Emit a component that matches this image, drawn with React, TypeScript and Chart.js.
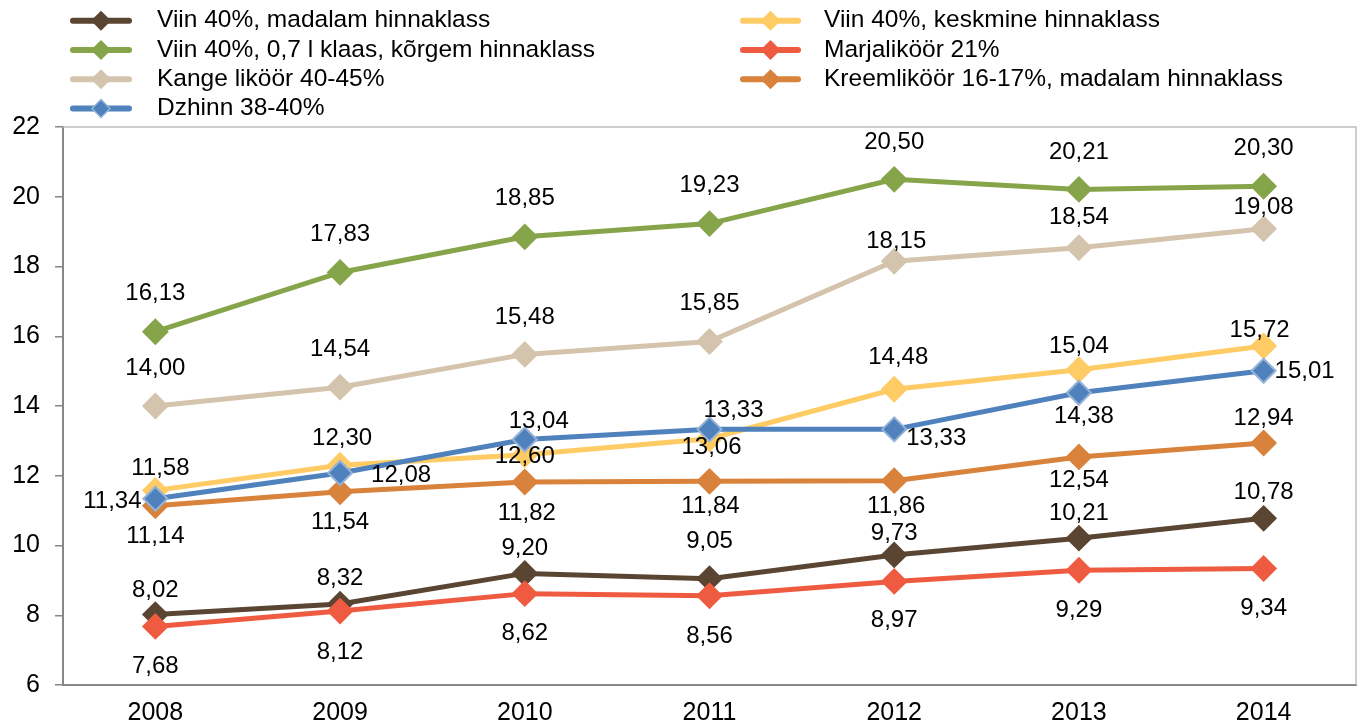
import React, { useEffect, useRef } from 'react';
import { Chart, registerables } from 'chart.js';

Chart.register(...registerables);

const years = ['2008', '2009', '2010', '2011', '2012', '2013', '2014'];
const yTickMin = 6;
const yTickMax = 22;
const yTickStep = 2;

const viinMadalam = [8.02, 8.32, 9.2, 9.05, 9.73, 10.21, 10.78];
const viinKeskmine = [11.58, 12.3, 12.6, 13.06, 14.48, 15.04, 15.72];
const viinKorgem = [16.13, 17.83, 18.85, 19.23, 20.5, 20.21, 20.3];
const marjalikoor = [7.68, 8.12, 8.62, 8.56, 8.97, 9.29, 9.34];
const kangeLikoor = [14.0, 14.54, 15.48, 15.85, 18.15, 18.54, 19.08];
const kreemlikoor = [11.14, 11.54, 11.82, 11.84, 11.86, 12.54, 12.94];
const dzhinn = [11.34, 12.08, 13.04, 13.33, 13.33, 14.38, 15.01];

const FONT = '"Liberation Sans", Arial, Helvetica, sans-serif';

// label placement (offsets from the point, in px) — layout config, not data
const offMadalam = [[0, -24], [0, -26], [0, -25], [0, -37], [0, -22], [0, -25], [0, -26]];
const offKeskmine = [[5, -22], [2, -27], [0, 2], [2, 9], [4, -32], [0, -23], [-4, -16]];
const offKorgem = [[0, -38], [0, -38], [0, -38], [0, -38], [0, -37], [0, -37], [0, -38]];
const offMarja = [[0, 40], [0, 41], [0, 40], [0, 41], [0, 39], [0, 40], [0, 40]];
const offKange = [[0, -38], [0, -38], [0, -37], [0, -38], [2, -20], [0, -30], [0, -21]];
const offKreem = [[0, 31], [0, 31], [2, 31], [1, 25], [2, 26], [0, 23], [0, -25]];
const offDzhinn = [[-43, 3], [61, 2], [14, -18], [24, -19], [42, 9], [5, 24], [41, 1]];

const fmt = (v: number) => v.toFixed(2).replace('.', ',');

export default function App() {
  const ref = useRef<HTMLCanvasElement>(null);

  useEffect(() => {
    document.body.style.margin = '0';
    const series = [
      { label: 'Viin 40%, madalam hinnaklass', data: viinMadalam, color: '#5A4533', border: '#5A4533', off: offMadalam, col: 0, row: 0 },
      { label: 'Viin 40%, keskmine hinnaklass', data: viinKeskmine, color: '#FECB64', border: '#FECB64', off: offKeskmine, col: 1, row: 0 },
      { label: 'Viin 40%, 0,7 l klaas, kõrgem hinnaklass', data: viinKorgem, color: '#86A44A', border: '#86A44A', off: offKorgem, col: 0, row: 1 },
      { label: 'Marjaliköör 21%', data: marjalikoor, color: '#EF5B40', border: '#EF5B40', off: offMarja, col: 1, row: 1 },
      { label: 'Kange liköör 40-45%', data: kangeLikoor, color: '#D4C4AD', border: '#D4C4AD', off: offKange, col: 0, row: 2 },
      { label: 'Kreemliköör 16-17%, madalam hinnaklass', data: kreemlikoor, color: '#D9823B', border: '#D9823B', off: offKreem, col: 1, row: 2 },
      { label: 'Dzhinn 38-40%', data: dzhinn, color: '#4F81BD', border: '#95B3D7', off: offDzhinn, col: 0, row: 3 },
    ];

    const labelPlugin = {
      id: 'valueLabels',
      afterDatasetsDraw(chart: any) {
        const ctx = chart.ctx;
        ctx.save();
        ctx.font = `24px ${FONT}`;
        ctx.fillStyle = '#000';
        ctx.textAlign = 'center';
        ctx.textBaseline = 'middle';
        chart.data.datasets.forEach((ds: any, di: number) => {
          const meta = chart.getDatasetMeta(di);
          meta.data.forEach((pt: any, i: number) => {
            const [dx, dy] = series[di].off[i];
            ctx.fillText(fmt(ds.data[i]), pt.x + dx, pt.y + dy);
          });
        });
        ctx.restore();
      },
    };

    const framePlugin = {
      id: 'frame',
      beforeDatasetsDraw(chart: any) {
        const { ctx, chartArea: a } = chart;
        ctx.save();
        ctx.strokeStyle = '#BEBEBE';
        ctx.lineWidth = 1.5;
        ctx.beginPath();
        ctx.moveTo(a.left, a.top);
        ctx.lineTo(a.right, a.top);
        ctx.lineTo(a.right, a.bottom);
        ctx.stroke();
        ctx.restore();
      },
    };

    const legendPlugin = {
      id: 'customLegend',
      afterDraw(chart: any) {
        const ctx = chart.ctx;
        const cols = [
          { x1: 73, x2: 129, tx: 157 },
          { x1: 743, x2: 798, tx: 824 },
        ];
        const rows = [20.7, 50, 79.3, 108.5];
        ctx.save();
        series.forEach((s) => {
          const c = cols[s.col];
          const y = rows[s.row];
          ctx.strokeStyle = s.color;
          ctx.lineWidth = 6;
          ctx.lineCap = 'round';
          ctx.beginPath();
          ctx.moveTo(c.x1, y);
          ctx.lineTo(c.x2, y);
          ctx.stroke();
          const cx = (c.x1 + c.x2) / 2;
          const r = 9;
          ctx.beginPath();
          ctx.moveTo(cx, y - r);
          ctx.lineTo(cx + r, y);
          ctx.lineTo(cx, y + r);
          ctx.lineTo(cx - r, y);
          ctx.closePath();
          ctx.fillStyle = s.color;
          ctx.fill();
          ctx.lineWidth = 1.5;
          ctx.lineCap = 'butt';
          ctx.strokeStyle = s.border;
          ctx.stroke();
          ctx.fillStyle = '#000';
          ctx.font = `24.5px ${FONT}`;
          ctx.textAlign = 'left';
          ctx.textBaseline = 'middle';
          ctx.fillText(s.label, c.tx, y);
        });
        ctx.restore();
      },
    };

    const chart = new Chart(ref.current!, {
      type: 'line',
      data: {
        labels: years,
        datasets: series.map((s, i) => ({
          label: s.label,
          data: s.data,
          borderColor: s.color,
          backgroundColor: s.color,
          borderWidth: 5,
          pointStyle: 'rectRot',
          pointRadius: 12,
          pointBorderWidth: 2,
          pointBackgroundColor: s.color,
          pointBorderColor: s.border,
          tension: 0,
          fill: false,
          order: series.length - 1 - i,
        })),
      },
      options: {
        animation: false,
        responsive: true,
        maintainAspectRatio: false,
        layout: { padding: { top: 127, right: 8, left: 0, bottom: 0 } },
        plugins: {
          legend: { display: false },
          tooltip: { enabled: false },
          title: { display: false },
        },
        scales: {
          x: {
            type: 'category',
            offset: true,
            grid: { display: false, drawTicks: false },
            border: { display: true, color: '#878787', width: 2 },
            ticks: { color: '#000', font: { family: FONT, size: 25 }, padding: 13, maxRotation: 0 },
            afterFit: (s: any) => { s.height = 41; },
          },
          y: {
            min: yTickMin,
            max: yTickMax,
            ticks: { stepSize: yTickStep, color: '#000', font: { family: FONT, size: 25 }, padding: 15 },
            grid: { drawOnChartArea: false, drawTicks: true, tickLength: 8, color: '#878787', lineWidth: 1.5 },
            border: { display: true, color: '#878787', width: 2 },
            afterFit: (s: any) => { s.width = 63; },
          },
        },
      },
      plugins: [framePlugin, labelPlugin, legendPlugin],
    });
    return () => chart.destroy();
  }, []);

  return (
    <div style={{ width: 1370, height: 726, position: 'relative' }}>
      <canvas ref={ref} />
    </div>
  );
}
